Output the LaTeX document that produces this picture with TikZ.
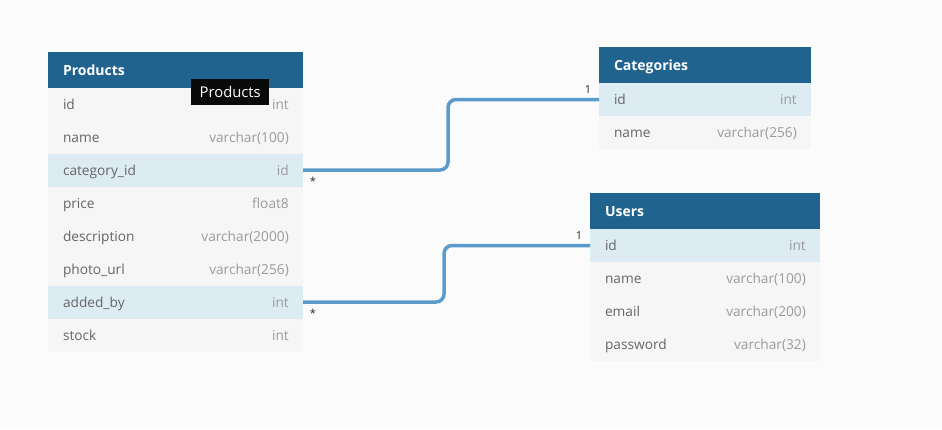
\documentclass[tikz,border=0pt]{standalone}
\usepackage{fontspec}
\setmainfont{Open Sans}
\usetikzlibrary{positioning}
\definecolor{hblue}{HTML}{21638F}
\definecolor{rblue}{HTML}{DDEBF3}
\definecolor{rgray}{HTML}{F6F6F6}
\definecolor{bgcol}{HTML}{FBFBFB}
\definecolor{fgray}{HTML}{666666}
\definecolor{tgray}{HTML}{9B9B9B}
\definecolor{lblue}{HTML}{5A9BCC}
\tikzstyle{tblhead} = [rectangle, minimum height=35.5pt, inner xsep=15pt, inner ysep=0pt, outer sep=0pt, align=left, text height=11pt, text depth=0pt, text=white, fill=hblue, font=\fontsize{14}{16}\selectfont\bfseries]
\tikzstyle{tblrow} = [rectangle, minimum height=33pt, inner xsep=15pt, inner ysep=0pt, outer sep=0pt, align=left, text height=11.5pt, text depth=1.5pt, text=fgray, fill=rgray, font=\fontsize{13.7}{16}\selectfont]
\tikzstyle{keyrow} = [tblrow, fill=rblue]
\tikzstyle{pcol} = [text width=225pt]
\tikzstyle{ccol} = [text width=182pt]
\tikzstyle{ucol} = [text width=200pt]
\tikzstyle{typetxt} = [inner sep=0pt, text height=11.5pt, text depth=1.5pt, text=tgray, font=\fontsize{13.7}{16}\selectfont]
\tikzstyle{relline} = [line width=3.5pt, lblue, rounded corners=8pt]
\tikzstyle{cardtxt} = [inner sep=0pt, text=black!85, font=\fontsize{11}{12}\selectfont]
\tikzstyle{tooltip} = [rectangle, minimum width=78pt, minimum height=26pt, inner sep=0pt, text=white, fill=black!96, font=\fontsize{14.8}{16}\selectfont]

\begin{document}
\begin{tikzpicture}[x=1pt, y=-1pt, node distance=0pt]
  \fill [bgcol] (0,0) rectangle (942,429);
  % Products
  \node (prod) [tblhead, pcol, anchor=north west] at (48,52) {Products};
  \node (pid) [tblrow, pcol, below=of prod] {id};
  \node (pname) [tblrow, pcol, below=of pid] {name};
  \node (pcat) [keyrow, pcol, below=of pname] {category\_id};
  \node (pprice) [tblrow, pcol, below=of pcat] {price};
  \node (pdesc) [tblrow, pcol, below=of pprice] {description};
  \node (pphoto) [tblrow, pcol, below=of pdesc] {photo\_url};
  \node (padded) [keyrow, pcol, below=of pphoto] {added\_by};
  \node (pstock) [tblrow, pcol, below=of padded] {stock};
  \node (pidT) [typetxt, left=14pt of pid.east] {int};
  \node (pnameT) [typetxt, left=14pt of pname.east] {varchar(100)};
  \node (pcatT) [typetxt, left=14pt of pcat.east] {id};
  \node (ppriceT) [typetxt, left=14pt of pprice.east] {float8};
  \node (pdescT) [typetxt, left=14pt of pdesc.east] {varchar(2000)};
  \node (pphotoT) [typetxt, left=14pt of pphoto.east] {varchar(256)};
  \node (paddedT) [typetxt, left=14pt of padded.east] {int};
  \node (pstockT) [typetxt, left=14pt of pstock.east] {int};
  % Categories
  \node (cat) [tblhead, ccol, minimum height=36pt, anchor=north west] at (599,47) {Categories};
  \node (cid) [keyrow, ccol, below=of cat] {id};
  \node (cname) [tblrow, ccol, below=of cid] {name};
  \node (cidT) [typetxt, left=14pt of cid.east] {int};
  \node (cnameT) [typetxt, left=14pt of cname.east] {varchar(256)};
  % Users
  \node (usr) [tblhead, ucol, minimum height=36pt, anchor=north west] at (590,193) {Users};
  \node (uid) [keyrow, ucol, below=of usr] {id};
  \node (uname) [tblrow, ucol, below=of uid] {name};
  \node (umail) [tblrow, ucol, below=of uname] {email};
  \node (upass) [tblrow, ucol, below=of umail] {password};
  \node (uidT) [typetxt, left=14pt of uid.east] {int};
  \node (unameT) [typetxt, left=14pt of uname.east] {varchar(100)};
  \node (umailT) [typetxt, left=14pt of umail.east] {varchar(200)};
  \node (upassT) [typetxt, left=14pt of upass.east] {varchar(32)};
  % relations
  \draw [relline] (pcat.east) -- ++(145,0) |- (cid.west);
  \draw [relline] (padded.east) -- ++(141,0) |- (uid.west);
  \node (many1) [cardtxt] at (313,181) {*};
  \node (one1) [cardtxt] at (588,90) {1};
  \node (many2) [cardtxt] at (313,313) {*};
  \node (one2) [cardtxt] at (579,236) {1};
  % hover label
  \node (tip) [tooltip, anchor=north west] at (191,79) {Products};
\end{tikzpicture}
\end{document}
